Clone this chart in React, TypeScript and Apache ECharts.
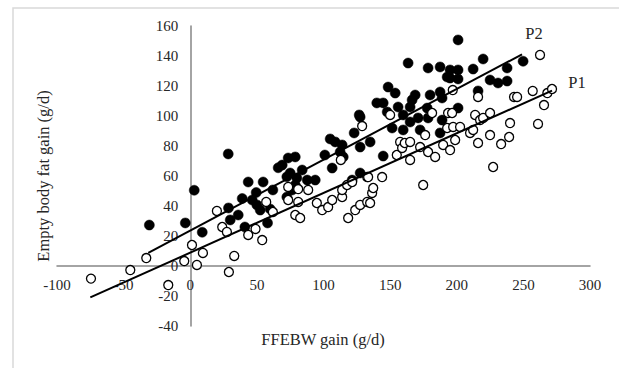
import React, { useEffect, useRef } from "react";
import * as echarts from "echarts";

const xTicks = { min: -100, max: 300, interval: 50 };
const yTicks = { min: -40, max: 160, interval: 20 };

const p2Points: number[][] = [
  [-30.7, 27.3], [-3.7, 28.7], [3, 50.5], [9, 22.5], [28.5, 74.7], [28.7, 38.7], [30, 30.7], [36, 34],
  [41, 26], [39, 45], [43.5, 56], [46.5, 44], [49.5, 49], [50, 40.7], [52.5, 37.3], [54.7, 56],
  [58, 28.7], [60, 38], [62, 50.7], [66, 65.5], [69, 67.3], [72.5, 59.5], [72.5, 46], [73.5, 72],
  [78.8, 72.7], [75, 62], [84, 64], [80, 58.7], [87.8, 57.3], [93.8, 57.3], [78.8, 54], [76.5, 50.7],
  [101, 74], [105, 84.7], [108.8, 82.7], [114, 80.7], [112.5, 76], [114.8, 72.7], [106.5, 65.3],
  [121.5, 57.3], [127.5, 62], [123, 88.7], [126.8, 100.7], [127.5, 79.3], [127.5, 99.3], [135, 82.7],
  [140, 108.7], [144.8, 108.7], [147.8, 102.7], [148.5, 119.3], [153.8, 115.3], [151.5, 92], [144.8, 73.3],
  [156, 106], [159.8, 100.7], [159.8, 90.7], [163.5, 135.3], [165, 106], [165, 96], [166.5, 110.7],
  [168.8, 114], [171, 98.7], [172.5, 90.7], [177.8, 105.3], [178.5, 98.7], [178.5, 132], [180, 114],
  [187.5, 132.7], [187.5, 116], [187.5, 88.7], [189, 97.3], [189, 112], [192.8, 126], [195, 130.7],
  [195, 125.3], [201, 130.7], [201, 124.7], [201, 150.7], [201, 105.3], [212.3, 131.3], [216, 116.7],
  [219.8, 138], [225, 124], [231, 122], [237.8, 132], [237.8, 123.3], [249.8, 136.5]
];

const p1Points: number[][] = [
  [-74.5, -8.4], [-45, -2.7], [-33, 5.3], [-16.5, -12.7], [-4.5, 3.3], [1.3, 14], [5, 0.7], [9.5, 8.7],
  [20, 36.7], [24, 26], [27.5, 22.7], [29, -4], [33, 6.7], [43.5, 20.7], [49, 24.7], [54, 17.3],
  [57, 42.7], [62, 36], [73.5, 52.7], [73.5, 44], [81, 51.3], [88.5, 50.7], [81, 42.7], [78.8, 34],
  [82.5, 32], [95, 42], [99, 37.3], [103.5, 39.3], [106.5, 44], [113, 70.7], [114, 46], [114, 50.7],
  [117.7, 54], [121.5, 56], [118.5, 32], [123.8, 37.3], [127.5, 40.7], [129, 93.3], [132.8, 59.3],
  [132.8, 42.7], [133.5, 59.3], [135, 42], [136.5, 48.7], [137.3, 52], [144, 59.3], [150, 100.7],
  [155, 74], [157.5, 82.7], [159, 78.7], [161, 82], [165, 82.7], [165, 70.7], [172.5, 79.3], [174.8, 54],
  [176.3, 87.3], [178.5, 76], [181.5, 102], [183.8, 72.7], [189.8, 80.7], [192.8, 92], [193.5, 102],
  [195, 77.3], [196.5, 102], [197, 117.3], [197.3, 92.7], [198.8, 84], [202.5, 92.7], [210, 88.7],
  [212.3, 90.7], [213.8, 100.7], [216, 112.7], [216, 82], [217.5, 97.3], [219.8, 98.7], [225, 102],
  [225, 87.3], [227.3, 66], [233.3, 81.3], [239.3, 86], [240, 95.3], [243, 112.7], [245.3, 112.7],
  [257, 116.7], [261, 94.7], [262.5, 140.7], [265.5, 107.3], [268, 115.3], [271.5, 118]
];

// Regression lines: [intercept, slope] and x-range
const p1Fit = [8.9, 0.398];
const p1Range = [-75, 271.5];
const p2Fit = [23.6, 0.472];
const p2Range = [-31.5, 249];

const lineData = (fit: number[], range: number[]) =>
  range.map((x) => [x, fit[0] + fit[1] * x]);

const FONT = "Liberation Serif";
const GRID = { left: 57, right: 29, top: 26, bottom: 42 };
const W = 619;
const H = 368;

export default function App() {
  const ref = useRef<HTMLDivElement>(null);
  useEffect(() => {
    if (!ref.current) return;
    const chart = echarts.init(ref.current, null, { renderer: "svg" });
    const axisLineStyle = { color: "#868686", width: 1.5 };
    const gw = W - GRID.left - GRID.right;
    const gh = H - GRID.top - GRID.bottom;
    // offsets move each axis so it crosses the other at zero
    const yOffset = -((0 - xTicks.min) / (xTicks.max - xTicks.min)) * gw;
    const xOffset = -((0 - yTicks.min) / (yTicks.max - yTicks.min)) * gh;
    const titleFont = `16.5px "${FONT}"`;
    chart.setOption({
      animation: false,
      backgroundColor: "#ffffff",
      grid: GRID,
      xAxis: {
        type: "value",
        position: "bottom",
        offset: xOffset,
        min: xTicks.min,
        max: xTicks.max,
        interval: xTicks.interval,
        axisLine: { show: true, onZero: false, lineStyle: axisLineStyle },
        axisTick: { show: false },
        splitLine: { show: false },
        axisLabel: { margin: 11, color: "#262626", fontFamily: FONT, fontSize: 15 },
      },
      yAxis: {
        type: "value",
        position: "left",
        offset: yOffset,
        min: yTicks.min,
        max: yTicks.max,
        interval: yTicks.interval,
        axisLine: { show: true, onZero: false, lineStyle: axisLineStyle },
        axisTick: { show: false },
        splitLine: { show: false },
        axisLabel: { margin: 12, color: "#262626", fontFamily: FONT, fontSize: 15 },
      },
      graphic: [
        {
          type: "rect",
          silent: true,
          shape: { x: 13, y: 8, width: 640, height: 420 },
          style: { fill: "none", stroke: "#d9d9d9", lineWidth: 1.5 },
        },
        {
          type: "text",
          x: 43,
          y: 176,
          rotation: Math.PI / 2,
          style: {
            text: "Empty body fat gain (g/d)",
            font: titleFont,
            fill: "#262626",
            align: "center",
            verticalAlign: "middle",
          },
        },
        {
          type: "text",
          x: 323,
          y: 339,
          style: {
            text: "FFEBW gain (g/d)",
            font: titleFont,
            fill: "#262626",
            align: "center",
            verticalAlign: "middle",
          },
        },
        {
          type: "text",
          x: 534,
          y: 33,
          style: { text: "P2", font: titleFont, fill: "#262626", align: "center", verticalAlign: "middle" },
        },
        {
          type: "text",
          x: 577,
          y: 82,
          style: { text: "P1", font: titleFont, fill: "#262626", align: "center", verticalAlign: "middle" },
        },
      ],
      series: [
        {
          name: "P2",
          type: "scatter",
          data: p2Points,
          symbol: "circle",
          symbolSize: 10,
          itemStyle: { color: "#000", borderColor: "#000", borderWidth: 0.5, opacity: 1 },
          z: 2,
        },
        {
          name: "P1",
          type: "scatter",
          data: p1Points,
          symbol: "circle",
          symbolSize: 9,
          itemStyle: { color: "#fff", borderColor: "#000", borderWidth: 1.3, opacity: 1 },
          z: 3,
        },
        {
          name: "P1 fit",
          type: "line",
          data: lineData(p1Fit, p1Range),
          symbol: "none",
          lineStyle: { color: "#000", width: 2 },
          z: 4,
        },
        {
          name: "P2 fit",
          type: "line",
          data: lineData(p2Fit, p2Range),
          symbol: "none",
          lineStyle: { color: "#000", width: 2 },
          z: 4,
        },
      ],
    });
    return () => chart.dispose();
  }, []);
  return (
    <div
      ref={ref}
      style={{ position: "fixed", left: 0, top: 0, width: W, height: H, background: "#fff" }}
    />
  );
}
